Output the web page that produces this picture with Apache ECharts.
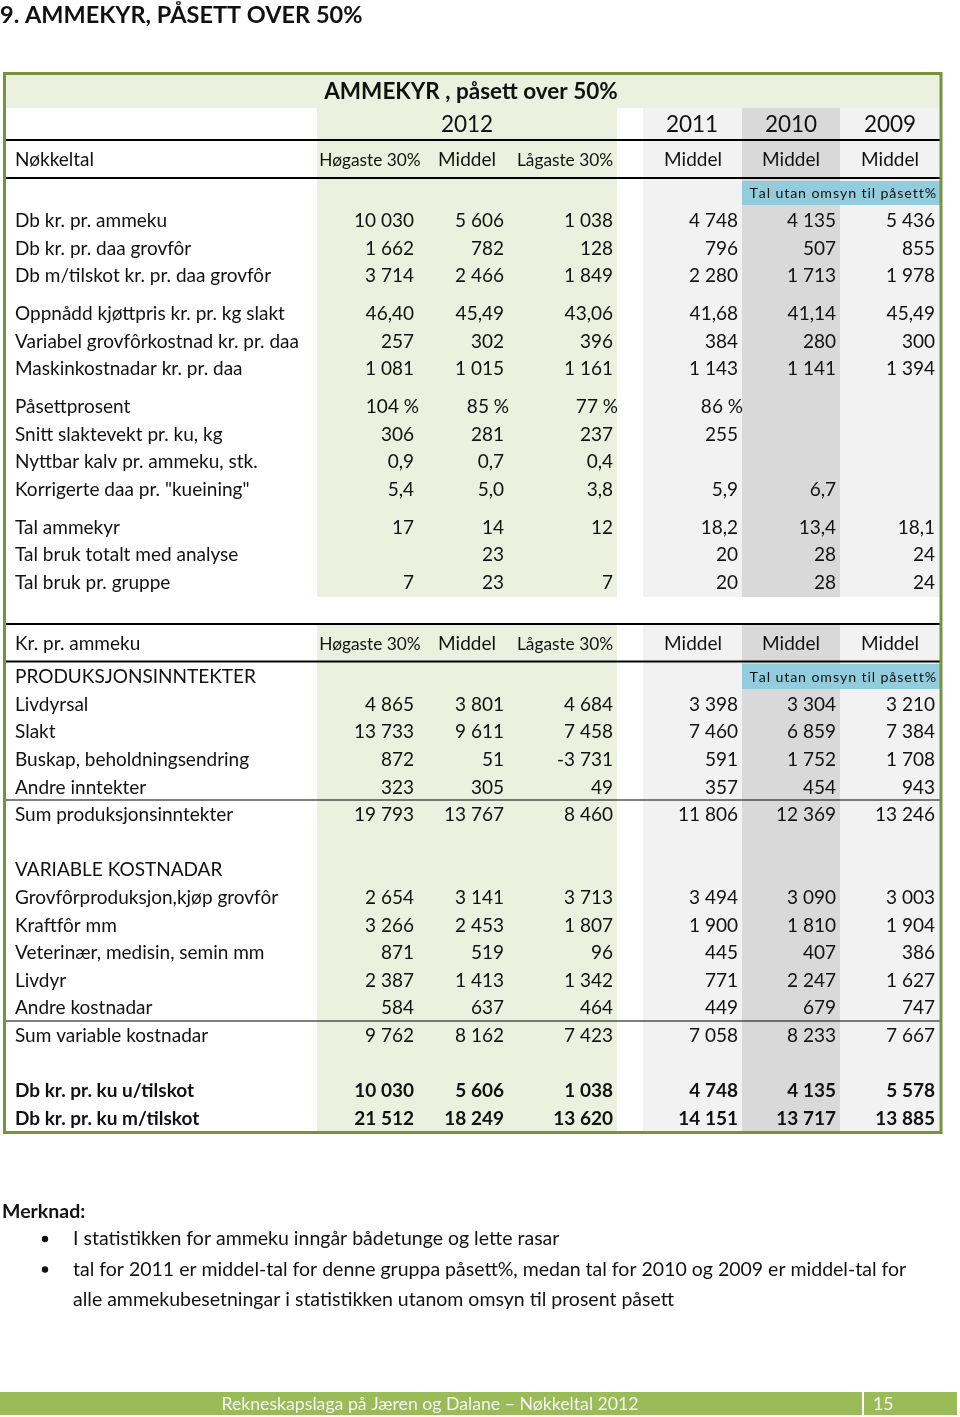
<!DOCTYPE html>
<html><head><meta charset="utf-8">
<script src="https://cdn.jsdelivr.net/npm/echarts@6/dist/echarts.min.js"></script>
<style>html,body{margin:0;padding:0;background:#fff}#c{width:960px;height:1417px}</style>
</head><body><div id="c"></div>
<script>
// ---------------- DATA ----------------
const pageTitle = "9. AMMEKYR, PÅSETT OVER 50%";
const tableTitle = "AMMEKYR , påsett over 50%";
const yearLabels = ["2012", "2011", "2010", "2009"];
const columnLabels = ["Høgaste 30%", "Middel", "Lågaste 30%", "Middel", "Middel", "Middel"];
const keyHeader = "Nøkkeltal";
const kuHeader = "Kr. pr. ammeku";
const bandNote = "Tal utan omsyn til påsett%";

const keyLabels = [
  "Db kr. pr. ammeku", "Db kr. pr. daa grovfôr", "Db m/tilskot kr. pr. daa grovfôr",
  "Oppnådd kjøttpris kr. pr. kg slakt", "Variabel grovfôrkostnad kr. pr. daa", "Maskinkostnadar kr. pr. daa",
  "Påsettprosent", "Snitt slaktevekt pr. ku, kg", "Nyttbar kalv pr. ammeku, stk.", "Korrigerte daa pr. \"kueining\"",
  "Tal ammekyr", "Tal bruk totalt med analyse", "Tal bruk pr. gruppe"
];
const keyFormats = ["int", "int", "int", "d2", "int", "int", "pct", "int", "d1", "d1", "auto", "int", "int"];
const keyHogaste = [10030, 1662, 3714, 46.40, 257, 1081, 104, 306, 0.9, 5.4, 17, null, 7];
const keyMiddel  = [5606, 782, 2466, 45.49, 302, 1015, 85, 281, 0.7, 5.0, 14, 23, 23];
const keyLagaste = [1038, 128, 1849, 43.06, 396, 1161, 77, 237, 0.4, 3.8, 12, null, 7];
const key2011    = [4748, 796, 2280, 41.68, 384, 1143, 86, 255, null, 5.9, 18.2, 20, 20];
const key2010    = [4135, 507, 1713, 41.14, 280, 1141, null, null, null, 6.7, 13.4, 28, 28];
const key2009    = [5436, 855, 1978, 45.49, 300, 1394, null, null, null, null, 18.1, 24, 24];

const incomeHeading = "PRODUKSJONSINNTEKTER";
const costHeading = "VARIABLE KOSTNADAR";
const kuLabels = [
  "Livdyrsal", "Slakt", "Buskap, beholdningsendring", "Andre inntekter", "Sum produksjonsinntekter",
  "Grovfôrproduksjon,kjøp grovfôr", "Kraftfôr mm", "Veterinær, medisin, semin mm", "Livdyr", "Andre kostnadar",
  "Sum variable kostnadar", "Db kr. pr. ku u/tilskot", "Db kr. pr. ku m/tilskot"
];
const kuHogaste = [4865, 13733, 872, 323, 19793, 2654, 3266, 871, 2387, 584, 9762, 10030, 21512];
const kuMiddel  = [3801, 9611, 51, 305, 13767, 3141, 2453, 519, 1413, 637, 8162, 5606, 18249];
const kuLagaste = [4684, 7458, -3731, 49, 8460, 3713, 1807, 96, 1342, 464, 7423, 1038, 13620];
const ku2011    = [3398, 7460, 591, 357, 11806, 3494, 1900, 445, 771, 449, 7058, 4748, 14151];
const ku2010    = [3304, 6859, 1752, 454, 12369, 3090, 1810, 407, 2247, 679, 8233, 4135, 13717];
const ku2009    = [3210, 7384, 1708, 943, 13246, 3003, 1904, 386, 1627, 747, 7667, 5578, 13885];

const notesTitle = "Merknad:";
const noteLines = [
  ["I statistikken for ammeku inngår bådetunge og lette rasar"],
  ["tal for 2011 er middel-tal for denne gruppa påsett%, medan tal for 2010 og 2009 er middel-tal for",
   "alle ammekubesetningar i statistikken utanom omsyn til prosent påsett"]
];
const footerText = "Rekneskapslaga på Jæren og Dalane – Nøkkeltal 2012";
const pageNumber = "15";

// ---------------- LAYOUT ----------------
const FONT = "Lato";
const SZ = 19;
const C = { text: "#111", green: "#ebf1de", border: "#77933c", grey: "#f2f2f2", dark: "#d9d9d9", blue: "#93cddd", foot: "#9bbb59" };
const colRight = [414, 504, 613, 738, 836, 935];
const colCenter = [370, 467, 565, 693, 791, 890];
const yearCenter = [467, 692, 791, 890];
const labelX = 15;
const step = 27.6;
const keyTop = 221, keyGap = 10.2, keyGroups = [3, 3, 4, 3];
const kuTop = 677, kuSlots = [1, 2, 3, 4, 5, 8, 9, 10, 11, 12, 13, 15, 16], kuBold = [11, 12];

function keyRowY(i) {
  let y = keyTop, n = 0;
  for (let g = 0; g < keyGroups.length; g++) {
    for (let k = 0; k < keyGroups[g]; k++) { if (n === i) return y; y += step; n++; }
    y += keyGap;
  }
  return y;
}
function fmtNum(v, fmt) {
  if (v == null) return "";
  const neg = v < 0, a = Math.abs(v);
  let dec = fmt === "d2" ? 2 : fmt === "d1" ? 1 : fmt === "auto" ? (Number.isInteger(a) ? 0 : 1) : 0;
  let parts = a.toFixed(dec).split(".");
  let ip = parts[0].replace(/\B(?=(\d{3})+(?!\d))/g, "\u00a0");
  let s = (neg ? "-" : "") + ip + (parts[1] ? "," + parts[1] : "");
  if (fmt === "pct") s += " %";
  return s;
}
function spaced(s) { return s.split("").join("\u200a"); }

// ---------------- CELLS ----------------
const cells = [];
function cell(x, y, text, align, opts) {
  opts = opts || {};
  cells.push({ value: [x, y], text: text, align: align, size: opts.size || SZ, bold: !!opts.bold, fill: opts.fill || C.text });
}
const keyCols = [keyHogaste, keyMiddel, keyLagaste, key2011, key2010, key2009];
keyLabels.forEach(function (lab, i) {
  const y = keyRowY(i);
  cell(labelX, y, lab, "left");
  keyCols.forEach(function (col, c) {
    const t = fmtNum(col[i], keyFormats[i]);
    if (t) cell(colRight[c] + (keyFormats[i] === "pct" ? 5 : 0), y, t, "right");
  });
});
const kuCols = [kuHogaste, kuMiddel, kuLagaste, ku2011, ku2010, ku2009];
cell(labelX, kuTop, incomeHeading, "left");
cell(labelX, kuTop + 7 * step, costHeading, "left");
kuLabels.forEach(function (lab, i) {
  const y = kuTop + kuSlots[i] * step;
  const b = kuBold.indexOf(i) >= 0;
  cell(labelX, y, lab, "left", { bold: b });
  kuCols.forEach(function (col, c) {
    cell(colRight[c], y, fmtNum(col[i], "int"), "right", { bold: b });
  });
});
// headers
cell(471, 92, tableTitle, "center", { bold: true, size: 22.5 });
yearLabels.forEach(function (t, i) { cell(yearCenter[i], 125, t, "center", { size: 22.5 }); });
[160, 644].forEach(function (y, k) {
  cell(labelX, y, k === 0 ? keyHeader : kuHeader, "left");
  columnLabels.forEach(function (t, i) {
    cell(colCenter[i], y, t, "center", { size: (i === 0 || i === 2) ? 17.3 : SZ });
  });
});
[193, 677].forEach(function (y) { cell(936, y, spaced(bandNote), "right", { size: 14.2 }); });

// ---------------- DECORATION ----------------
const g = [];
function rect(x, y, w, h, fill, z) { g.push({ type: "rect", z: z || 0, shape: { x: x, y: y, width: w, height: h }, style: { fill: fill } }); }
function hline(y, w) { g.push({ type: "line", z: 3, shape: { x1: 5, y1: y, x2: 940, y2: y }, style: { stroke: "#000", lineWidth: w } }); }
rect(5, 74, 935, 34, C.green);
[[108, 597], [624, 1132]].forEach(function (r) {
  rect(317, r[0], 300, r[1] - r[0], C.green);
  rect(643, r[0], 99, r[1] - r[0], C.grey);
  rect(742, r[0], 98, r[1] - r[0], C.dark);
  rect(840, r[0], 100, r[1] - r[0], C.grey);
});
rect(742, 181, 198, 24, C.blue, 1);
rect(742, 664, 198, 25, C.blue, 1);
hline(140, 2); hline(178, 2); hline(624, 2); hline(661.5, 2); hline(800, 1.2); hline(1021, 1.2);
g.push({ type: "rect", z: 4, shape: { x: 4.5, y: 73.5, width: 936.5, height: 1059 }, style: { fill: null, stroke: C.border, lineWidth: 3 } });
g.push({ type: "text", z: 5, x: 0, y: 15, style: { text: pageTitle, font: "bold 23.5px " + FONT, fill: C.text, verticalAlign: "middle" } });
g.push({ type: "text", z: 5, x: 2, y: 1212, style: { text: notesTitle, font: "bold 19.5px " + FONT, fill: C.text, verticalAlign: "middle" } });
let ny = 1239;
noteLines.forEach(function (lines) {
  g.push({ type: "circle", z: 5, shape: { cx: 45, cy: ny, r: 3.2 }, style: { fill: C.text } });
  lines.forEach(function (ln) {
    g.push({ type: "text", z: 5, x: 73, y: ny, style: { text: ln, font: "19.5px " + FONT, fill: C.text, verticalAlign: "middle" } });
    ny += 30.5;
  });
});
rect(0, 1392, 957, 23, C.foot, 1);
rect(862, 1392, 2, 23, "#ffffff", 2);
g.push({ type: "text", z: 5, x: 430, y: 1404, style: { text: footerText, font: "17.7px " + FONT, fill: "#f4f4f4", align: "center", verticalAlign: "middle" } });
g.push({ type: "text", z: 5, x: 873, y: 1404, style: { text: pageNumber, font: "17.7px " + FONT, fill: "#f4f4f4", verticalAlign: "middle" } });

// ---------------- CHART ----------------
const chart = echarts.init(document.getElementById("c"), null, { renderer: "canvas" });
chart.setOption({
  animation: false,
  backgroundColor: "#ffffff",
  grid: { left: 0, top: 0, right: 0, bottom: 0 },
  xAxis: { type: "value", min: 0, max: 960, show: false },
  yAxis: { type: "value", min: 0, max: 1417, inverse: true, show: false },
  graphic: { elements: g },
  series: [{
    type: "custom",
    coordinateSystem: "cartesian2d",
    silent: true,
    clip: false,
    z: 10,
    data: cells,
    renderItem: function (params, api) {
      const d = cells[params.dataIndex];
      const p = api.coord([api.value(0), api.value(1)]);
      return {
        type: "text", x: p[0], y: p[1],
        style: { text: d.text, font: (d.bold ? "bold " : "") + d.size + "px " + FONT, fill: d.fill, align: d.align, verticalAlign: "middle" }
      };
    }
  }]
});
</script>
</body></html>
